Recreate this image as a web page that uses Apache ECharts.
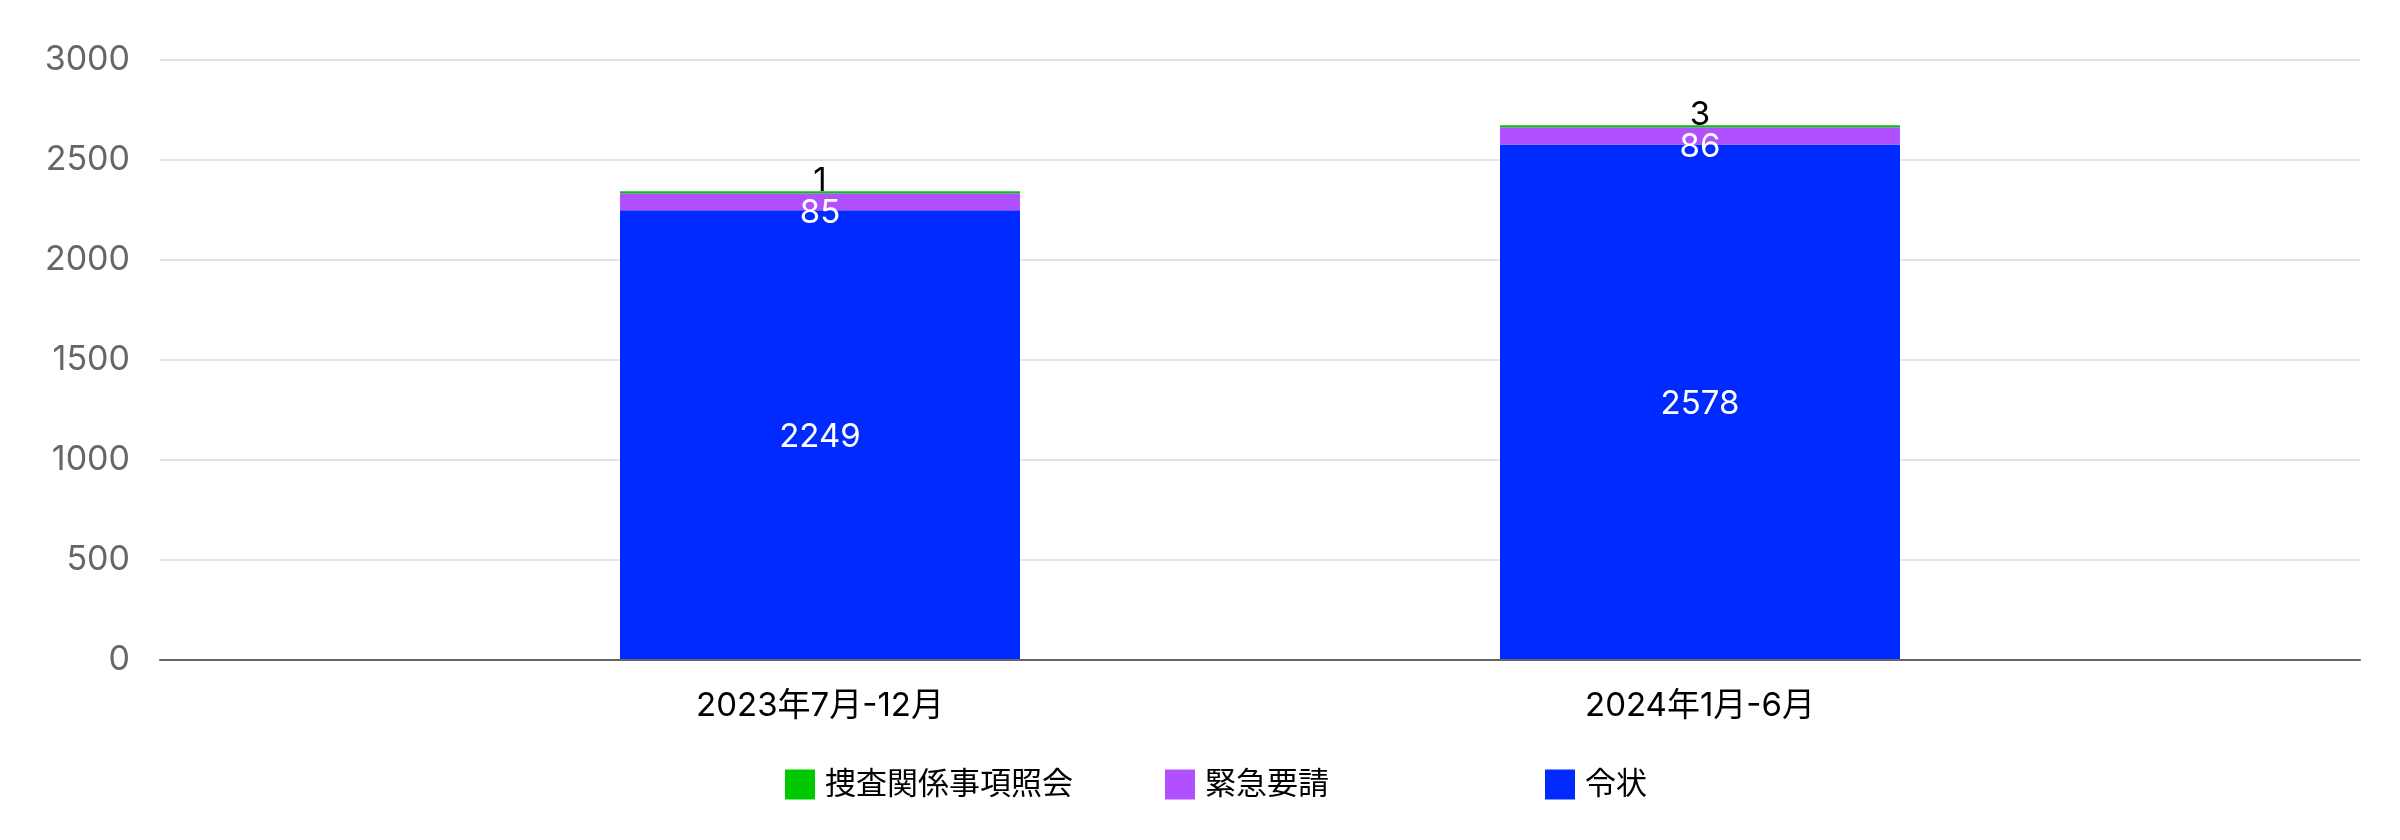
<!DOCTYPE html>
<html>
<head>
<meta charset="utf-8">
<script src="https://cdn.jsdelivr.net/npm/echarts@6/dist/echarts.min.js"></script>
<style>html,body{margin:0;padding:0;background:#fff}#c{width:2400px;height:840px}</style>
</head>
<body>
<div id="c"></div>
<script>
const categories = ['2023年7月-12月', '2024年1月-6月'];
const seriesNames = ['捜査関係事項照会', '緊急要請', '令状'];
const warrant = [2249, 2578];
const emergency = [85, 86];
const inquiry = [1, 3];
const yTicks = [0, 500, 1000, 1500, 2000, 2500, 3000];

const FONT = "Inter, 'Noto Sans CJK JP', sans-serif";
const legendLefts = [780, 1160, 1540];
const chart = echarts.init(document.getElementById('c'));
chart.setOption({
  animation: false,
  textStyle: { fontFamily: FONT },
  grid: [
    { left: 160, right: 40, top: 60, bottom: 180 },
    { left: 380, right: 260, top: 60, bottom: 180 }
  ],
  xAxis: [
    { type: 'category', gridIndex: 0, data: [''], z: 5,
      axisLine: { show: true, lineStyle: { color: '#666666', width: 2 } },
      axisTick: { show: false }, axisLabel: { show: false }, splitLine: { show: false } },
    { type: 'category', gridIndex: 1, data: categories,
      axisLine: { show: false }, axisTick: { show: false },
      axisLabel: { color: '#000000', fontSize: 33, margin: 30, fontFamily: FONT } }
  ],
  yAxis: [
    { type: 'value', gridIndex: 0, min: yTicks[0], max: yTicks[yTicks.length - 1], interval: 500,
      axisLine: { show: false }, axisTick: { show: false },
      axisLabel: { color: '#666666', fontSize: 34, margin: 30, fontFamily: FONT,
        formatter: function (v) { return String(v); } },
      splitLine: { lineStyle: { color: '#e3e3e3', width: 2 } } },
    { type: 'value', gridIndex: 1, min: yTicks[0], max: yTicks[yTicks.length - 1], interval: 500,
      show: false, splitLine: { show: false } }
  ],
  legend: seriesNames.map(function (n, i) {
    return {
      data: [n], left: legendLefts[i], top: 764,
      icon: 'rect', itemWidth: 30, itemHeight: 30,
      textStyle: { color: '#000000', fontSize: 31, fontFamily: FONT, padding: [0, 0, 0, 5] }
    };
  }),
  series: [
    { name: '令状', type: 'bar', stack: 'a', xAxisIndex: 1, yAxisIndex: 1, barWidth: 400,
      data: warrant, itemStyle: { color: '#002AFF' },
      label: { show: true, position: 'inside', offset: [0, 2], color: '#ffffff', fontSize: 33, fontFamily: FONT } },
    { name: '緊急要請', type: 'bar', stack: 'a', xAxisIndex: 1, yAxisIndex: 1, barWidth: 400,
      data: emergency, itemStyle: { color: '#B150FF' },
      label: { show: true, position: 'inside', offset: [0, 11], color: '#ffffff', fontSize: 33, fontFamily: FONT } },
    { name: '捜査関係事項照会', type: 'bar', stack: 'a', xAxisIndex: 1, yAxisIndex: 1, barWidth: 400,
      barMinHeight: 2, data: inquiry, itemStyle: { color: '#00C800' },
      label: { show: true, position: 'top', distance: -6, color: '#000000', fontSize: 33, fontFamily: FONT } }
  ]
});
</script>
</body>
</html>
